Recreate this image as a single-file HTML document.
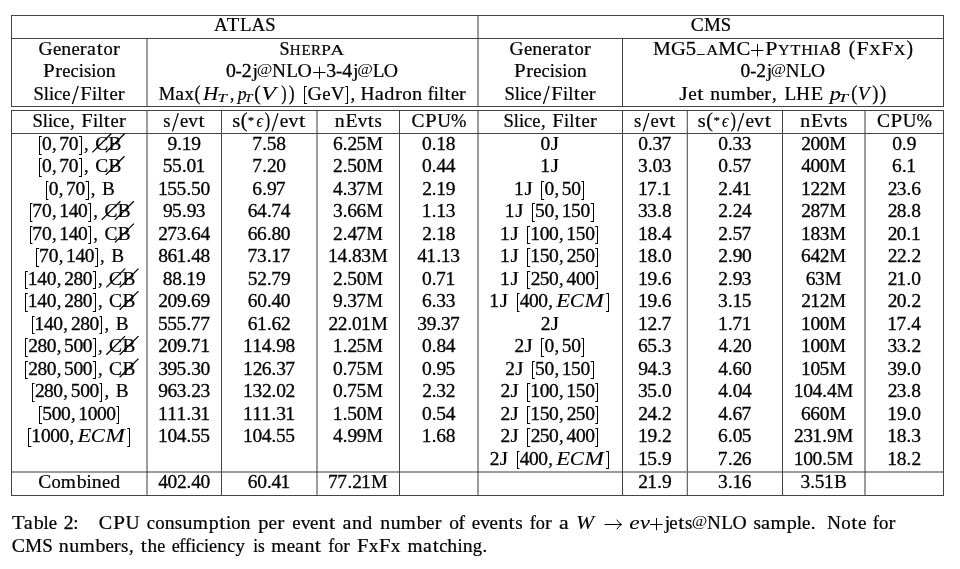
<!DOCTYPE html>
<html><head><meta charset="utf-8"><style>
html,body{margin:0;padding:0;background:#fff;width:960px;height:569px;overflow:hidden}
svg{display:block;will-change:transform}
text{font-family:"Liberation Serif",serif;font-size:18.56px;fill:#000;stroke:#000;stroke-width:0.22px;font-kerning:none;font-variant-ligatures:none;white-space:pre}
text.i{font-style:italic;stroke-width:0.12px}
.sl{stroke:#000;stroke-width:1.3}
.sl2{stroke:#000;stroke-width:1.25}
</style></head><body>
<svg width="960" height="569" viewBox="0 0 960 569">
<rect x="686" y="110" width="1" height="386" fill="#d4d4d4"/><rect x="11" y="471" width="933" height="2" fill="#9c9c9c"/><rect x="146" y="38" width="2" height="69" fill="#9c9c9c"/><rect x="146" y="110" width="2" height="386" fill="#9c9c9c"/><rect x="316" y="110" width="2" height="386" fill="#9c9c9c"/><rect x="477" y="15" width="2" height="92" fill="#9c9c9c"/><rect x="477" y="110" width="2" height="386" fill="#9c9c9c"/><rect x="864" y="110" width="2" height="386" fill="#9c9c9c"/><rect x="146" y="471" width="2" height="2" fill="#666"/><rect x="316" y="471" width="2" height="2" fill="#666"/><rect x="477" y="471" width="2" height="2" fill="#666"/><rect x="864" y="471" width="2" height="2" fill="#666"/><rect x="687" y="110" width="1" height="386" fill="#6a6a6a"/><rect x="11" y="15" width="933" height="1" fill="#444"/><rect x="11" y="38" width="933" height="1" fill="#444"/><rect x="11" y="106" width="933" height="1" fill="#444"/><rect x="11" y="110" width="933" height="1" fill="#444"/><rect x="11" y="133" width="933" height="1" fill="#444"/><rect x="11" y="495" width="933" height="1" fill="#444"/><rect x="11" y="15" width="1" height="92" fill="#444"/><rect x="11" y="110" width="1" height="386" fill="#444"/><rect x="221" y="110" width="1" height="386" fill="#444"/><rect x="399" y="110" width="1" height="386" fill="#444"/><rect x="622" y="38" width="1" height="69" fill="#444"/><rect x="622" y="110" width="1" height="386" fill="#444"/><rect x="782" y="110" width="1" height="386" fill="#444"/><rect x="943" y="15" width="1" height="92" fill="#444"/><rect x="943" y="110" width="1" height="386" fill="#444"/>
<g fill="#000">
<line x1="72.44" y1="104.05" x2="78.20" y2="85.87" class="sl2"/>
<line x1="543.44" y1="104.05" x2="549.20" y2="85.87" class="sl2"/>
<path d="M313.16 72h12.36v1h-12.36ZM319 66.38h1v12.36h-1Z"/>
<path d="M304 86H306.84V87H305V103H306.84V104H304Z"/>
<path d="M348 86H345.30V87H347V103H345.30V104H348Z"/>
<rect x="696.8" y="54.00" width="8" height="0.9"/>
<path d="M751.12 50h12.36v1h-12.36ZM757 44.08h1v12.36h-1Z"/>
<line x1="172.50" y1="131.25" x2="178.25" y2="113.07" class="sl2"/>
<line x1="272.02" y1="131.25" x2="277.99" y2="113.07" class="sl2"/>
<line x1="643.15" y1="131.25" x2="648.90" y2="113.07" class="sl2"/>
<line x1="737.72" y1="131.25" x2="743.69" y2="113.07" class="sl2"/>
<path d="M39 136H41.71V137H40V154H41.71V155H39Z"/>
<path d="M82 136H78.91V137H81V154H78.91V155H82Z"/>
<line x1="92.35" y1="152.40" x2="111.15" y2="133.70" class="sl"/>
<line x1="105.75" y1="152.40" x2="124.55" y2="133.70" class="sl"/>
<path d="M39 158H41.71V159H40V176H41.71V177H39Z"/>
<path d="M82 158H78.91V159H81V176H78.91V177H82Z"/>
<line x1="105.75" y1="174.89" x2="124.55" y2="156.19" class="sl"/>
<path d="M46 181H48.41V182H47V199H48.41V200H46Z"/>
<path d="M89 181H85.61V182H88V199H85.61V200H89Z"/>
<path d="M541 181H544.15V182H542V199H544.15V200H541Z"/>
<path d="M584 181H581.35V182H583V199H581.35V200H584Z"/>
<path d="M30 203H32.43V204H31V221H32.43V222H30Z"/>
<path d="M91 203H88.19V204H90V221H88.19V222H91Z"/>
<line x1="101.63" y1="219.87" x2="120.43" y2="201.17" class="sl"/>
<line x1="115.03" y1="219.87" x2="133.83" y2="201.17" class="sl"/>
<path d="M532 203H534.87V204H533V221H534.87V222H532Z"/>
<path d="M594 203H590.63V204H593V221H590.63V222H594Z"/>
<path d="M30 226H32.43V227H31V243H32.43V244H30Z"/>
<path d="M91 226H88.19V227H90V243H88.19V244H91Z"/>
<line x1="115.03" y1="242.36" x2="133.83" y2="223.66" class="sl"/>
<path d="M527 226H530.23V227H528V243H530.23V244H527Z"/>
<path d="M598 226H595.27V227H597V243H595.27V244H598Z"/>
<path d="M36 248H39.13V249H37V266H39.13V267H36Z"/>
<path d="M98 248H94.89V249H97V266H94.89V267H98Z"/>
<path d="M527 248H530.23V249H528V266H530.23V267H527Z"/>
<path d="M598 248H595.27V249H597V266H595.27V267H598Z"/>
<path d="M25 271H27.79V272H26V288H27.79V289H25Z"/>
<path d="M96 271H92.83V272H95V288H92.83V289H96Z"/>
<line x1="106.27" y1="287.34" x2="125.07" y2="268.64" class="sl"/>
<line x1="119.67" y1="287.34" x2="138.47" y2="268.64" class="sl"/>
<path d="M527 271H530.23V272H528V288H530.23V289H527Z"/>
<path d="M598 271H595.27V272H597V288H595.27V289H598Z"/>
<path d="M25 293H27.79V294H26V311H27.79V312H25Z"/>
<path d="M96 293H92.83V294H95V311H92.83V312H96Z"/>
<line x1="119.67" y1="309.83" x2="138.47" y2="291.13" class="sl"/>
<path d="M517 293H519.45V294H518V311H519.45V312H517Z"/>
<path d="M609 293H606.06V294H608V311H606.06V312H609Z"/>
<path d="M32 316H34.49V317H33V333H34.49V334H32Z"/>
<path d="M102 316H99.53V317H101V333H99.53V334H102Z"/>
<path d="M25 338H27.79V339H26V356H27.79V357H25Z"/>
<path d="M96 338H92.83V339H95V356H92.83V357H96Z"/>
<line x1="106.27" y1="354.81" x2="125.07" y2="336.11" class="sl"/>
<line x1="119.67" y1="354.81" x2="138.47" y2="336.11" class="sl"/>
<path d="M541 338H544.15V339H542V356H544.15V357H541Z"/>
<path d="M584 338H581.35V339H583V356H581.35V357H584Z"/>
<path d="M25 361H27.79V362H26V378H27.79V379H25Z"/>
<path d="M96 361H92.83V362H95V378H92.83V379H96Z"/>
<line x1="119.67" y1="377.30" x2="138.47" y2="358.60" class="sl"/>
<path d="M532 361H534.87V362H533V378H534.87V379H532Z"/>
<path d="M594 361H590.63V362H593V378H590.63V379H594Z"/>
<path d="M32 383H34.49V384H33V401H34.49V402H32Z"/>
<path d="M102 383H99.53V384H101V401H99.53V402H102Z"/>
<path d="M527 383H530.23V384H528V401H530.23V402H527Z"/>
<path d="M598 383H595.27V384H597V401H595.27V402H598Z"/>
<path d="M39 406H42.09V407H40V423H42.09V424H39Z"/>
<path d="M119 406H116.41V407H118V423H116.41V424H119Z"/>
<path d="M527 406H530.23V407H528V423H530.23V424H527Z"/>
<path d="M598 406H595.27V407H597V423H595.27V424H598Z"/>
<path d="M28 428H31.31V429H29V446H31.31V447H28Z"/>
<path d="M130 428H127.20V429H129V446H127.20V447H130Z"/>
<path d="M527 428H530.23V429H528V446H530.23V447H527Z"/>
<path d="M598 428H595.27V429H597V446H595.27V447H598Z"/>
<path d="M517 451H519.45V452H518V468H519.45V469H517Z"/>
<path d="M609 451H606.06V452H608V468H606.06V469H609Z"/>
<rect x="604.70" y="524" width="16.40" height="1"/><path d="M616.80 519.70Q619.10 523.50 621.70 524.50Q619.10 525.50 616.80 529.30" fill="none" stroke="#000" stroke-width="1"/>
<path d="M650.08 524h12.36v1h-12.36ZM656 517.88h1v12.36h-1Z"/>
</g>
<text class="r" transform="scale(1.023 1.000)" x="209.21 245.75" y="30.90" style="stroke-width:0.218px">AA</text>
<text class="r" transform="scale(1.109 1.000)" x="204.43" y="30.90" style="stroke-width:0.209px">T</text>
<text class="r" transform="scale(1.014 1.000)" x="236.76" y="30.90" style="stroke-width:0.218px">L</text>
<text class="r" x="265.20" y="30.90">S</text>
<text class="r" transform="scale(1.050 1.000)" x="657.84" y="30.90" style="stroke-width:0.215px">C</text>
<text class="r" transform="scale(1.019 1.000)" x="690.77" y="30.90" style="stroke-width:0.218px">M</text>
<text class="r" x="720.76" y="30.90">S</text>
<text class="r" transform="scale(1.052 1.000)" x="36.64" y="54.90" style="stroke-width:0.214px">G</text>
<text class="r" x="52.93 71.49" y="54.90">ee</text>
<text class="r" transform="scale(1.067 1.000)" x="57.49" y="54.90" style="stroke-width:0.213px">n</text>
<text class="r" transform="scale(1.106 1.000)" x="72.22 102.10" y="54.90" style="stroke-width:0.209px">rr</text>
<text class="r" transform="scale(1.076 1.000)" x="80.89" y="54.90" style="stroke-width:0.212px">a</text>
<text class="r" transform="scale(1.180 1.000)" x="82.08" y="54.90" style="stroke-width:0.203px">t</text>
<text class="r" x="103.55" y="54.90">o</text>
<text class="r" transform="scale(1.134 1.000)" x="37.94" y="77.20" style="stroke-width:0.207px">P</text>
<text class="r" transform="scale(1.106 1.000)" x="49.89" y="77.20" style="stroke-width:0.209px">r</text>
<text class="r" x="62.30 70.52" y="77.20">ec</text>
<text class="r" x="78.82 91.29 96.47" y="77.20">iio</text>
<text class="r" transform="scale(1.008 1.000)" x="83.30" y="77.20" style="stroke-width:0.219px">s</text>
<text class="r" transform="scale(1.067 1.000)" x="99.23" y="77.20" style="stroke-width:0.213px">n</text>
<text class="r" x="33.42" y="99.60">S</text>
<text class="r" x="43.78 48.92 91.97 97.14" y="99.60">liil</text>
<text class="r" x="54.03 62.30 109.48" y="99.60">cee</text>
<text class="r" transform="scale(1.104 1.000)" x="72.74" y="99.60" style="stroke-width:0.209px">F</text>
<text class="r" transform="scale(1.180 1.000)" x="87.14" y="99.60" style="stroke-width:0.203px">t</text>
<text class="r" transform="scale(1.106 1.000)" x="106.57" y="99.60" style="stroke-width:0.209px">r</text>
<text class="r" transform="scale(1.052 1.000)" x="484.36" y="54.90" style="stroke-width:0.214px">G</text>
<text class="r" x="523.93 542.49" y="54.90">ee</text>
<text class="r" transform="scale(1.067 1.000)" x="498.92" y="54.90" style="stroke-width:0.213px">n</text>
<text class="r" transform="scale(1.106 1.000)" x="498.08 527.96" y="54.90" style="stroke-width:0.209px">rr</text>
<text class="r" transform="scale(1.076 1.000)" x="518.63" y="54.90" style="stroke-width:0.212px">a</text>
<text class="r" transform="scale(1.180 1.000)" x="481.23" y="54.90" style="stroke-width:0.203px">t</text>
<text class="r" x="574.55" y="54.90">o</text>
<text class="r" transform="scale(1.134 1.000)" x="453.28" y="77.20" style="stroke-width:0.207px">P</text>
<text class="r" transform="scale(1.106 1.000)" x="475.74" y="77.20" style="stroke-width:0.209px">r</text>
<text class="r" x="533.30 541.52" y="77.20">ec</text>
<text class="r" x="549.82 562.29 567.47" y="77.20">iio</text>
<text class="r" transform="scale(1.008 1.000)" x="550.56" y="77.20" style="stroke-width:0.219px">s</text>
<text class="r" transform="scale(1.067 1.000)" x="540.65" y="77.20" style="stroke-width:0.213px">n</text>
<text class="r" x="504.42" y="99.60">S</text>
<text class="r" x="514.78 519.92 562.97 568.14" y="99.60">liil</text>
<text class="r" x="525.03 533.30 580.48" y="99.60">cee</text>
<text class="r" transform="scale(1.104 1.000)" x="499.37" y="99.60" style="stroke-width:0.209px">F</text>
<text class="r" transform="scale(1.180 1.000)" x="486.29" y="99.60" style="stroke-width:0.203px">t</text>
<text class="r" transform="scale(1.106 1.000)" x="532.43" y="99.60" style="stroke-width:0.209px">r</text>
<text class="r" transform="scale(0.974 1.000)" x="287.05" y="54.90" style="stroke-width:0.223px">S</text>
<text class="r" transform="scale(1.052 1.000)" x="275.48 286.50 295.71" y="54.90" style="font-size:14.29px;stroke-width:0.214px">HER</text>
<text class="r" transform="scale(1.206 1.000)" x="266.42" y="54.90" style="font-size:14.29px;stroke-width:0.200px">P</text>
<text class="r" transform="scale(1.360 1.000)" x="242.80" y="54.90" style="font-size:14.29px;stroke-width:0.189px">A</text>
<text class="r" transform="scale(1.069 1.000)" x="211.36 226.19 305.29 320.07" y="77.20" style="stroke-width:0.290px">0234</text>
<text class="r" transform="scale(1.018 1.000)" x="231.45 330.18" y="77.20" style="stroke-width:0.218px">--</text>
<text class="r" transform="scale(1.079 1.000)" x="234.13 327.27" y="77.20" style="stroke-width:0.212px">jj</text>
<text class="r" transform="scale(0.916 0.820)" x="280.20 389.91" y="90.76" style="stroke-width:0.000px">@@</text>
<text class="r" transform="scale(1.041 1.000)" x="261.18" y="77.20" style="stroke-width:0.216px">N</text>
<text class="r" transform="scale(1.032 1.000)" x="277.48 361.14" y="77.20" style="stroke-width:0.217px">LL</text>
<text class="r" transform="scale(1.065 1.000)" x="279.35 360.41" y="77.20" style="stroke-width:0.213px">OO</text>
<text class="r" x="158.66" y="99.60">M</text>
<text class="r" transform="scale(1.060 1.000)" x="165.38" y="99.60" style="stroke-width:0.214px">a</text>
<text class="r" transform="scale(1.018 1.000)" x="181.32" y="99.60" style="stroke-width:0.218px">x</text>
<text class="r" transform="scale(0.985 1.100)" x="197.46" y="90.55" style="stroke-width:0.211px">(</text>
<text class="i" transform="scale(1.139 1.000)" x="178.25" y="99.60" style="stroke-width:0.112px">H</text>
<text class="i" transform="scale(1.294 1.000)" x="168.05" y="101.64" style="font-size:12.99px;stroke-width:0.105px">T</text>
<text class="r" transform="scale(0.912 1.000)" x="252.14" y="99.60" style="stroke-width:0.230px">,</text>
<text class="i" transform="scale(0.958 1.000)" x="248.06" y="99.60" style="stroke-width:0.123px">p</text>
<text class="i" transform="scale(1.141 1.000)" x="214.01" y="101.64" style="font-size:12.99px;stroke-width:0.112px">T</text>
<text class="r" transform="scale(1.049 1.100)" x="242.27" y="90.55" style="stroke-width:0.205px">(</text>
<text class="i" transform="scale(1.300 1.000)" x="200.95" y="99.60" style="stroke-width:0.105px">V</text>
<text class="r" transform="scale(0.860 1.100)" x="326.96" y="90.55" style="stroke-width:0.226px">)</text>
<text class="r" transform="scale(0.944 1.100)" x="305.76" y="90.55" style="stroke-width:0.216px">)</text>
<text class="r" transform="scale(1.069 1.000)" x="287.69" y="99.60" style="stroke-width:0.213px">G</text>
<text class="r" transform="scale(1.017 1.000)" x="316.78" y="99.60" style="stroke-width:0.218px">e</text>
<text class="r" transform="scale(1.040 1.000)" x="317.97" y="99.60" style="stroke-width:0.216px">V</text>
<text class="r" transform="scale(1.016 1.000)" x="344.95" y="99.60" style="stroke-width:0.218px">,</text>
<text class="r" transform="scale(1.050 1.000)" x="343.37" y="99.60" style="stroke-width:0.215px">H</text>
<text class="r" transform="scale(1.104 1.000)" x="339.41" y="99.60" style="stroke-width:0.209px">a</text>
<text class="r" transform="scale(1.095 1.000)" x="350.88 376.21" y="99.60" style="stroke-width:0.210px">dn</text>
<text class="r" transform="scale(1.135 1.000)" x="347.96" y="99.60" style="stroke-width:0.207px">r</text>
<text class="r" transform="scale(1.026 1.000)" x="392.09" y="99.60" style="stroke-width:0.217px">o</text>
<text class="r" transform="scale(0.974 1.000)" x="439.26 445.46 450.64" y="99.60" style="stroke-width:0.223px">fil</text>
<text class="r" transform="scale(1.150 1.000)" x="386.48" y="99.60" style="stroke-width:0.205px">t</text>
<text class="r" transform="scale(0.975 1.000)" x="462.50" y="99.60" style="stroke-width:0.223px">e</text>
<text class="r" transform="scale(1.078 1.000)" x="425.90" y="99.60" style="stroke-width:0.212px">r</text>
<text class="r" transform="scale(1.078 1.000)" x="605.68" y="54.90" style="stroke-width:0.212px">M</text>
<text class="r" transform="scale(1.113 1.000)" x="602.84" y="54.90" style="stroke-width:0.209px">G</text>
<text class="r" transform="scale(1.111 1.000)" x="617.27" y="54.90" style="stroke-width:0.285px">5</text>
<text class="r" transform="scale(1.149 1.000)" x="614.57" y="54.90" style="font-size:14.29px;stroke-width:0.205px">A</text>
<text class="r" transform="scale(1.084 1.000)" x="662.61" y="54.90" style="stroke-width:0.211px">M</text>
<text class="r" transform="scale(1.117 1.000)" x="659.46" y="54.90" style="stroke-width:0.208px">C</text>
<text class="r" transform="scale(1.184 1.000)" x="646.26" y="54.90" style="stroke-width:0.202px">P</text>
<text class="r" transform="scale(1.127 1.000)" x="690.32 701.36 710.94 721.59 726.68" y="54.90" style="font-size:14.29px;stroke-width:0.207px">YTHIA</text>
<text class="r" transform="scale(1.096 1.000)" x="757.76" y="54.90" style="stroke-width:0.287px">8</text>
<text class="r" transform="scale(1.058 1.100)" x="802.30 856.74" y="49.91" style="stroke-width:0.204px">()</text>
<text class="r" transform="scale(1.168 1.000)" x="733.30 754.59" y="54.90" style="stroke-width:0.204px">FF</text>
<text class="r" transform="scale(1.142 1.000)" x="760.90 782.67" y="54.90" style="font-size:14.29px;stroke-width:0.206px">XX</text>
<text class="r" transform="scale(1.050 1.000)" x="705.35 720.19" y="77.20" style="stroke-width:0.293px">02</text>
<text class="r" x="750.13" y="77.20">-</text>
<text class="r" transform="scale(1.060 1.000)" x="723.43" y="77.20" style="stroke-width:0.214px">j</text>
<text class="r" transform="scale(0.900 0.820)" x="856.44" y="90.76" style="stroke-width:0.000px">@</text>
<text class="r" transform="scale(1.023 1.000)" x="768.09" y="77.20" style="stroke-width:0.218px">N</text>
<text class="r" transform="scale(1.014 1.000)" x="788.93" y="77.20" style="stroke-width:0.218px">L</text>
<text class="r" transform="scale(1.046 1.000)" x="775.26" y="77.20" style="stroke-width:0.215px">O</text>
<text class="r" transform="scale(1.185 1.000)" x="573.11" y="99.60" style="stroke-width:0.202px">J</text>
<text class="r" transform="scale(1.031 1.000)" x="667.59" y="99.60" style="stroke-width:0.217px">e</text>
<text class="r" transform="scale(1.215 1.000)" x="573.96" y="99.60" style="stroke-width:0.200px">t</text>
<text class="r" transform="scale(1.057 1.000)" x="671.95 681.72 706.21" y="99.60" style="stroke-width:0.214px">nub</text>
<text class="r" transform="scale(1.033 1.000)" x="707.37" y="99.60" style="stroke-width:0.216px">m</text>
<text class="r" transform="scale(0.992 1.000)" x="762.16" y="99.60" style="stroke-width:0.221px">e</text>
<text class="r" transform="scale(1.096 1.000)" x="697.42" y="99.60" style="stroke-width:0.210px">r</text>
<text class="r" transform="scale(0.991 1.000)" x="778.97" y="99.60" style="stroke-width:0.221px">,</text>
<text class="r" transform="scale(1.038 1.000)" x="755.73" y="99.60" style="stroke-width:0.216px">L</text>
<text class="r" transform="scale(1.048 1.000)" x="759.62" y="99.60" style="stroke-width:0.215px">H</text>
<text class="r" transform="scale(1.094 1.000)" x="741.05" y="99.60" style="stroke-width:0.210px">E</text>
<text class="i" transform="scale(1.193 1.000)" x="695.47" y="99.60" style="stroke-width:0.110px">p</text>
<text class="i" transform="scale(1.420 1.000)" x="590.03" y="101.64" style="font-size:12.99px;stroke-width:0.101px">T</text>
<text class="r" transform="scale(0.986 1.100)" x="863.38" y="90.55" style="stroke-width:0.211px">(</text>
<text class="i" transform="scale(1.045 1.000)" x="820.75" y="99.60" style="stroke-width:0.117px">V</text>
<text class="r" transform="scale(0.986 1.100)" x="884.70" y="90.55" style="stroke-width:0.211px">)</text>
<text class="r" transform="scale(1.007 1.100)" x="873.78" y="90.55" style="stroke-width:0.209px">)</text>
<text class="r" x="32.39" y="126.80">S</text>
<text class="r" x="42.75 47.89 70.05 93.00 98.17" y="126.80">li,il</text>
<text class="r" x="52.99 61.27 110.51" y="126.80">cee</text>
<text class="r" transform="scale(1.104 1.000)" x="73.67" y="126.80" style="stroke-width:0.209px">F</text>
<text class="r" transform="scale(1.180 1.000)" x="88.01" y="126.80" style="stroke-width:0.203px">t</text>
<text class="r" transform="scale(1.106 1.000)" x="107.50" y="126.80" style="stroke-width:0.209px">r</text>
<text class="r" transform="scale(1.008 1.000)" x="162.00" y="126.80" style="stroke-width:0.219px">s</text>
<text class="r" x="179.88" y="126.80">e</text>
<text class="r" transform="scale(1.033 1.000)" x="182.26" y="126.80" style="stroke-width:0.216px">v</text>
<text class="r" transform="scale(1.180 1.000)" x="168.21" y="126.80" style="stroke-width:0.203px">t</text>
<text class="r" transform="scale(1.103 1.000)" x="210.48" y="126.80" style="stroke-width:0.209px">s</text>
<text class="r" transform="scale(1.094 1.100)" x="219.97" y="115.27" style="stroke-width:0.201px">(</text>
<text class="r" transform="scale(1.158 1.000)" x="213.96" y="123.94" style="font-size:11.14px;stroke-width:0.204px">*</text>
<text class="i" transform="scale(0.864 1.000)" x="296.79" y="126.80" style="stroke-width:0.129px">ϵ</text>
<text class="r" transform="scale(0.881 1.100)" x="300.54" y="115.27" style="stroke-width:0.223px">)</text>
<text class="r" transform="scale(1.039 1.000)" x="269.19" y="126.80" style="stroke-width:0.216px">e</text>
<text class="r" transform="scale(1.073 1.000)" x="268.78" y="126.80" style="stroke-width:0.212px">v</text>
<text class="r" transform="scale(1.226 1.000)" x="243.89" y="126.80" style="stroke-width:0.199px">t</text>
<text class="r" transform="scale(1.067 1.000)" x="313.72" y="126.80" style="stroke-width:0.213px">n</text>
<text class="r" transform="scale(1.069 1.000)" x="323.10" y="126.80" style="stroke-width:0.213px">E</text>
<text class="r" transform="scale(1.033 1.000)" x="346.23" y="126.80" style="stroke-width:0.216px">v</text>
<text class="r" transform="scale(1.180 1.000)" x="311.76" y="126.80" style="stroke-width:0.203px">t</text>
<text class="r" transform="scale(1.008 1.000)" x="371.57" y="126.80" style="stroke-width:0.219px">s</text>
<text class="r" transform="scale(1.050 1.000)" x="391.79" y="126.80" style="stroke-width:0.215px">C</text>
<text class="r" transform="scale(1.134 1.000)" x="374.80" y="126.80" style="stroke-width:0.207px">P</text>
<text class="r" transform="scale(1.023 1.000)" x="427.35" y="126.80" style="stroke-width:0.218px">U</text>
<text class="r" x="451.00" y="126.80">%</text>
<text class="r" x="503.39" y="126.80">S</text>
<text class="r" x="513.75 518.89 541.05 564.00 569.17" y="126.80">li,il</text>
<text class="r" x="523.99 532.27 581.51" y="126.80">cee</text>
<text class="r" transform="scale(1.104 1.000)" x="500.30" y="126.80" style="stroke-width:0.209px">F</text>
<text class="r" transform="scale(1.180 1.000)" x="487.16" y="126.80" style="stroke-width:0.203px">t</text>
<text class="r" transform="scale(1.106 1.000)" x="533.36" y="126.80" style="stroke-width:0.209px">r</text>
<text class="r" transform="scale(1.008 1.000)" x="628.91" y="126.80" style="stroke-width:0.219px">s</text>
<text class="r" x="650.53" y="126.80">e</text>
<text class="r" transform="scale(1.033 1.000)" x="637.87" y="126.80" style="stroke-width:0.216px">v</text>
<text class="r" transform="scale(1.180 1.000)" x="567.07" y="126.80" style="stroke-width:0.203px">t</text>
<text class="r" transform="scale(1.103 1.000)" x="632.69" y="126.80" style="stroke-width:0.209px">s</text>
<text class="r" transform="scale(1.094 1.100)" x="645.65" y="115.27" style="stroke-width:0.201px">(</text>
<text class="r" transform="scale(1.158 1.000)" x="616.12" y="123.94" style="font-size:11.14px;stroke-width:0.204px">*</text>
<text class="i" transform="scale(0.864 1.000)" x="835.79" y="126.80" style="stroke-width:0.129px">ϵ</text>
<text class="r" transform="scale(0.881 1.100)" x="829.14" y="115.27" style="stroke-width:0.223px">)</text>
<text class="r" transform="scale(1.039 1.000)" x="717.41" y="126.80" style="stroke-width:0.216px">e</text>
<text class="r" transform="scale(1.073 1.000)" x="702.80" y="126.80" style="stroke-width:0.212px">v</text>
<text class="r" transform="scale(1.226 1.000)" x="623.75" y="126.80" style="stroke-width:0.199px">t</text>
<text class="r" transform="scale(1.067 1.000)" x="750.08" y="126.80" style="stroke-width:0.213px">n</text>
<text class="r" transform="scale(1.069 1.000)" x="758.64" y="126.80" style="stroke-width:0.213px">E</text>
<text class="r" transform="scale(1.033 1.000)" x="796.96" y="126.80" style="stroke-width:0.216px">v</text>
<text class="r" transform="scale(1.180 1.000)" x="706.33" y="126.80" style="stroke-width:0.203px">t</text>
<text class="r" transform="scale(1.008 1.000)" x="833.47" y="126.80" style="stroke-width:0.219px">s</text>
<text class="r" transform="scale(1.050 1.000)" x="835.17" y="126.80" style="stroke-width:0.215px">C</text>
<text class="r" transform="scale(1.134 1.000)" x="785.34" y="126.80" style="stroke-width:0.207px">P</text>
<text class="r" transform="scale(1.023 1.000)" x="882.43" y="126.80" style="stroke-width:0.218px">U</text>
<text class="r" x="916.55" y="126.80">%</text>
<text class="r" transform="scale(1.050 1.000)" x="40.03 56.38 65.56" y="149.90" style="stroke-width:0.293px">070</text>
<text class="r" x="52.03 83.99" y="149.90">,,</text>
<text class="r" transform="scale(1.050 1.000)" x="90.66" y="149.90" style="stroke-width:0.215px">C</text>
<text class="r" transform="scale(1.037 1.000)" x="104.72" y="149.90" style="stroke-width:0.216px">B</text>
<text class="r" transform="scale(1.050 1.000)" x="159.62 173.03 182.21" y="149.90" style="stroke-width:0.293px">919</text>
<text class="r" x="177.29" y="149.90">.</text>
<text class="r" transform="scale(1.050 1.000)" x="240.15 254.07 263.08" y="149.90" style="stroke-width:0.293px">758</text>
<text class="r" x="262.29" y="149.90">.</text>
<text class="r" transform="scale(1.050 1.000)" x="317.03 331.01 339.57" y="149.90" style="stroke-width:0.293px">625</text>
<text class="r" x="342.78" y="149.90">.</text>
<text class="r" transform="scale(1.019 1.000)" x="359.52" y="149.90" style="stroke-width:0.218px">M</text>
<text class="r" transform="scale(1.050 1.000)" x="401.92 415.41 424.51" y="149.90" style="stroke-width:0.293px">018</text>
<text class="r" x="431.79" y="149.90">.</text>
<text class="r" transform="scale(1.050 1.000)" x="514.87" y="149.90" style="stroke-width:0.293px">0</text>
<text class="r" transform="scale(1.150 1.000)" x="478.90" y="149.90" style="stroke-width:0.205px">J</text>
<text class="r" transform="scale(1.050 1.000)" x="607.78 621.45 630.02" y="149.90" style="stroke-width:0.293px">037</text>
<text class="r" x="647.94" y="149.90">.</text>
<text class="r" transform="scale(1.050 1.000)" x="684.02 697.69 706.52" y="149.90" style="stroke-width:0.293px">033</text>
<text class="r" x="727.99" y="149.90">.</text>
<text class="r" transform="scale(1.050 1.000)" x="763.14 771.88 780.72" y="149.90" style="stroke-width:0.293px">200</text>
<text class="r" transform="scale(1.019 1.000)" x="813.91" y="149.90" style="stroke-width:0.218px">M</text>
<text class="r" transform="scale(1.050 1.000)" x="849.72 863.55" y="149.90" style="stroke-width:0.293px">09</text>
<text class="r" x="901.98" y="149.90">.</text>
<text class="r" transform="scale(1.050 1.000)" x="40.03 56.38 65.56" y="172.39" style="stroke-width:0.293px">070</text>
<text class="r" x="52.03 83.99" y="172.39">,,</text>
<text class="r" transform="scale(1.050 1.000)" x="90.66" y="172.39" style="stroke-width:0.215px">C</text>
<text class="r" transform="scale(1.037 1.000)" x="104.72" y="172.39" style="stroke-width:0.216px">B</text>
<text class="r" transform="scale(1.050 1.000)" x="154.95 163.79 177.71 186.29" y="172.39" style="stroke-width:0.293px">5501</text>
<text class="r" x="181.93" y="172.39">.</text>
<text class="r" transform="scale(1.050 1.000)" x="240.15 254.35 263.08" y="172.39" style="stroke-width:0.293px">720</text>
<text class="r" x="262.29" y="172.39">.</text>
<text class="r" transform="scale(1.050 1.000)" x="317.26 330.73 339.74" y="172.39" style="stroke-width:0.293px">250</text>
<text class="r" x="342.78" y="172.39">.</text>
<text class="r" transform="scale(1.019 1.000)" x="359.52" y="172.39" style="stroke-width:0.218px">M</text>
<text class="r" transform="scale(1.050 1.000)" x="401.92 415.64 424.47" y="172.39" style="stroke-width:0.293px">044</text>
<text class="r" x="431.79" y="172.39">.</text>
<text class="r" transform="scale(1.050 1.000)" x="514.61" y="172.39" style="stroke-width:0.293px">1</text>
<text class="r" transform="scale(1.150 1.000)" x="478.90" y="172.39" style="stroke-width:0.205px">J</text>
<text class="r" transform="scale(1.050 1.000)" x="607.70 621.53 630.29" y="172.39" style="stroke-width:0.293px">303</text>
<text class="r" x="647.94" y="172.39">.</text>
<text class="r" transform="scale(1.050 1.000)" x="684.02 697.59 706.26" y="172.39" style="stroke-width:0.293px">057</text>
<text class="r" x="727.99" y="172.39">.</text>
<text class="r" transform="scale(1.050 1.000)" x="763.00 771.88 780.72" y="172.39" style="stroke-width:0.293px">400</text>
<text class="r" transform="scale(1.019 1.000)" x="813.91" y="172.39" style="stroke-width:0.218px">M</text>
<text class="r" transform="scale(1.050 1.000)" x="849.60 863.21" y="172.39" style="stroke-width:0.293px">61</text>
<text class="r" x="901.98" y="172.39">.</text>
<text class="r" transform="scale(1.050 1.000)" x="46.41 62.76 71.94" y="194.88" style="stroke-width:0.293px">070</text>
<text class="r" x="58.73 90.70" y="194.88">,,</text>
<text class="r" transform="scale(1.037 1.000)" x="98.26" y="194.88" style="stroke-width:0.216px">B</text>
<text class="r" transform="scale(1.050 1.000)" x="150.45 159.37 168.20 181.95 190.97" y="194.88" style="stroke-width:0.293px">15550</text>
<text class="r" x="186.57" y="194.88">.</text>
<text class="r" transform="scale(1.050 1.000)" x="240.37 254.33 262.74" y="194.88" style="stroke-width:0.293px">697</text>
<text class="r" x="262.29" y="194.88">.</text>
<text class="r" transform="scale(1.050 1.000)" x="317.12 330.82 339.40" y="194.88" style="stroke-width:0.293px">437</text>
<text class="r" x="342.78" y="194.88">.</text>
<text class="r" transform="scale(1.019 1.000)" x="359.52" y="194.88" style="stroke-width:0.218px">M</text>
<text class="r" transform="scale(1.050 1.000)" x="402.03 415.41 424.59" y="194.88" style="stroke-width:0.293px">219</text>
<text class="r" x="431.79" y="194.88">.</text>
<text class="r" transform="scale(1.050 1.000)" x="489.57 518.55 535.07 544.08" y="194.88" style="stroke-width:0.293px">1050</text>
<text class="r" transform="scale(1.150 1.000)" x="456.04" y="194.88" style="stroke-width:0.205px">J</text>
<text class="r" x="554.48" y="194.88">,</text>
<text class="r" transform="scale(1.050 1.000)" x="607.52 616.27 630.11" y="194.88" style="stroke-width:0.293px">171</text>
<text class="r" x="657.22" y="194.88">.</text>
<text class="r" transform="scale(1.050 1.000)" x="684.12 697.73 706.35" y="194.88" style="stroke-width:0.293px">241</text>
<text class="r" x="727.99" y="194.88">.</text>
<text class="r" transform="scale(1.050 1.000)" x="762.78 771.98 780.82" y="194.88" style="stroke-width:0.293px">122</text>
<text class="r" transform="scale(1.019 1.000)" x="813.91" y="194.88" style="stroke-width:0.218px">M</text>
<text class="r" transform="scale(1.050 1.000)" x="845.41 854.06 867.77" y="194.88" style="stroke-width:0.293px">236</text>
<text class="r" x="906.62" y="194.88">.</text>
<text class="r" transform="scale(1.050 1.000)" x="30.84 40.03 56.46 65.52 74.40" y="217.37" style="stroke-width:0.293px">70140</text>
<text class="r" x="52.03 93.27" y="217.37">,,</text>
<text class="r" transform="scale(1.050 1.000)" x="99.50" y="217.37" style="stroke-width:0.215px">C</text>
<text class="r" transform="scale(1.037 1.000)" x="113.67" y="217.37" style="stroke-width:0.216px">B</text>
<text class="r" transform="scale(1.050 1.000)" x="155.21 163.79 177.79 186.47" y="217.37" style="stroke-width:0.293px">9593</text>
<text class="r" x="181.93" y="217.37">.</text>
<text class="r" transform="scale(1.050 1.000)" x="235.95 244.88 258.32 267.46" y="217.37" style="stroke-width:0.293px">6474</text>
<text class="r" x="266.93" y="217.37">.</text>
<text class="r" transform="scale(1.050 1.000)" x="317.07 330.78 339.62" y="217.37" style="stroke-width:0.293px">366</text>
<text class="r" x="342.78" y="217.37">.</text>
<text class="r" transform="scale(1.019 1.000)" x="359.52" y="217.37" style="stroke-width:0.218px">M</text>
<text class="r" transform="scale(1.050 1.000)" x="401.67 415.41 424.43" y="217.37" style="stroke-width:0.293px">113</text>
<text class="r" x="431.79" y="217.37">.</text>
<text class="r" transform="scale(1.050 1.000)" x="480.73 509.53 518.55 534.98 543.90 552.92" y="217.37" style="stroke-width:0.293px">150150</text>
<text class="r" transform="scale(1.150 1.000)" x="447.97" y="217.37" style="stroke-width:0.205px">J</text>
<text class="r" x="554.48" y="217.37">,</text>
<text class="r" transform="scale(1.050 1.000)" x="607.70 616.54 630.37" y="217.37" style="stroke-width:0.293px">338</text>
<text class="r" x="657.22" y="217.37">.</text>
<text class="r" transform="scale(1.050 1.000)" x="684.12 697.87 706.57" y="217.37" style="stroke-width:0.293px">224</text>
<text class="r" x="727.99" y="217.37">.</text>
<text class="r" transform="scale(1.050 1.000)" x="763.14 771.88 780.37" y="217.37" style="stroke-width:0.293px">287</text>
<text class="r" transform="scale(1.019 1.000)" x="813.91" y="217.37" style="stroke-width:0.218px">M</text>
<text class="r" transform="scale(1.050 1.000)" x="845.41 854.14 867.89" y="217.37" style="stroke-width:0.293px">288</text>
<text class="r" x="906.62" y="217.37">.</text>
<text class="r" transform="scale(1.050 1.000)" x="30.84 40.03 56.46 65.52 74.40" y="239.86" style="stroke-width:0.293px">70140</text>
<text class="r" x="52.03 93.27" y="239.86">,,</text>
<text class="r" transform="scale(1.050 1.000)" x="99.50" y="239.86" style="stroke-width:0.215px">C</text>
<text class="r" transform="scale(1.037 1.000)" x="113.67" y="239.86" style="stroke-width:0.216px">B</text>
<text class="r" transform="scale(1.050 1.000)" x="150.81 159.20 168.30 182.01 190.93" y="239.86" style="stroke-width:0.293px">27364</text>
<text class="r" x="186.57" y="239.86">.</text>
<text class="r" transform="scale(1.050 1.000)" x="235.95 244.79 258.66 267.50" y="239.86" style="stroke-width:0.293px">6680</text>
<text class="r" x="266.93" y="239.86">.</text>
<text class="r" transform="scale(1.050 1.000)" x="317.26 330.87 339.40" y="239.86" style="stroke-width:0.293px">247</text>
<text class="r" x="342.78" y="239.86">.</text>
<text class="r" transform="scale(1.019 1.000)" x="359.52" y="239.86" style="stroke-width:0.218px">M</text>
<text class="r" transform="scale(1.050 1.000)" x="402.03 415.41 424.51" y="239.86" style="stroke-width:0.293px">218</text>
<text class="r" x="431.79" y="239.86">.</text>
<text class="r" transform="scale(1.050 1.000)" x="476.31 505.03 514.13 522.97 539.40 548.32 557.34" y="239.86" style="stroke-width:0.293px">1100150</text>
<text class="r" transform="scale(1.150 1.000)" x="443.93" y="239.86" style="stroke-width:0.205px">J</text>
<text class="r" x="559.12" y="239.86">,</text>
<text class="r" transform="scale(1.050 1.000)" x="607.52 616.62 630.33" y="239.86" style="stroke-width:0.293px">184</text>
<text class="r" x="657.22" y="239.86">.</text>
<text class="r" transform="scale(1.050 1.000)" x="684.12 697.59 706.26" y="239.86" style="stroke-width:0.293px">257</text>
<text class="r" x="727.99" y="239.86">.</text>
<text class="r" transform="scale(1.050 1.000)" x="762.78 771.88 780.63" y="239.86" style="stroke-width:0.293px">183</text>
<text class="r" transform="scale(1.019 1.000)" x="813.91" y="239.86" style="stroke-width:0.218px">M</text>
<text class="r" transform="scale(1.050 1.000)" x="845.41 854.14 867.63" y="239.86" style="stroke-width:0.293px">201</text>
<text class="r" x="906.62" y="239.86">.</text>
<text class="r" transform="scale(1.050 1.000)" x="37.23 46.41 62.85 71.91 80.78" y="262.35" style="stroke-width:0.293px">70140</text>
<text class="r" x="58.73 99.98" y="262.35">,,</text>
<text class="r" transform="scale(1.037 1.000)" x="107.21" y="262.35" style="stroke-width:0.216px">B</text>
<text class="r" transform="scale(1.050 1.000)" x="150.70 159.42 168.12 182.09 190.97" y="262.35" style="stroke-width:0.293px">86148</text>
<text class="r" x="186.57" y="262.35">.</text>
<text class="r" transform="scale(1.050 1.000)" x="235.73 244.83 258.40 267.16" y="262.35" style="stroke-width:0.293px">7317</text>
<text class="r" x="266.93" y="262.35">.</text>
<text class="r" transform="scale(1.050 1.000)" x="312.48 321.54 335.32 344.08" y="262.35" style="stroke-width:0.293px">1483</text>
<text class="r" x="347.42" y="262.35">.</text>
<text class="r" transform="scale(1.019 1.000)" x="364.07" y="262.35" style="stroke-width:0.218px">M</text>
<text class="r" transform="scale(1.050 1.000)" x="397.47 406.08 419.83 428.85" y="262.35" style="stroke-width:0.293px">4113</text>
<text class="r" x="436.43" y="262.35">.</text>
<text class="r" transform="scale(1.050 1.000)" x="476.31 505.03 513.95 522.97 539.77 548.32 557.34" y="262.35" style="stroke-width:0.293px">1150250</text>
<text class="r" transform="scale(1.150 1.000)" x="443.93" y="262.35" style="stroke-width:0.205px">J</text>
<text class="r" x="559.12" y="262.35">,</text>
<text class="r" transform="scale(1.050 1.000)" x="607.52 616.62 630.37" y="262.35" style="stroke-width:0.293px">180</text>
<text class="r" x="657.22" y="262.35">.</text>
<text class="r" transform="scale(1.050 1.000)" x="684.12 697.85 706.61" y="262.35" style="stroke-width:0.293px">290</text>
<text class="r" x="727.99" y="262.35">.</text>
<text class="r" transform="scale(1.050 1.000)" x="762.92 771.84 780.82" y="262.35" style="stroke-width:0.293px">642</text>
<text class="r" transform="scale(1.019 1.000)" x="813.91" y="262.35" style="stroke-width:0.218px">M</text>
<text class="r" transform="scale(1.050 1.000)" x="845.41 854.25 868.00" y="262.35" style="stroke-width:0.293px">222</text>
<text class="r" x="906.62" y="262.35">.</text>
<text class="r" transform="scale(1.050 1.000)" x="26.51 35.57 44.44 61.24 69.98 78.82" y="284.84" style="stroke-width:0.293px">140280</text>
<text class="r" x="56.67 97.91" y="284.84">,,</text>
<text class="r" transform="scale(1.050 1.000)" x="103.91" y="284.84" style="stroke-width:0.215px">C</text>
<text class="r" transform="scale(1.037 1.000)" x="118.15" y="284.84" style="stroke-width:0.216px">B</text>
<text class="r" transform="scale(1.050 1.000)" x="155.12 163.96 177.45 186.63" y="284.84" style="stroke-width:0.293px">8819</text>
<text class="r" x="181.93" y="284.84">.</text>
<text class="r" transform="scale(1.050 1.000)" x="235.90 245.02 258.32 267.58" y="284.84" style="stroke-width:0.293px">5279</text>
<text class="r" x="266.93" y="284.84">.</text>
<text class="r" transform="scale(1.050 1.000)" x="317.26 330.73 339.74" y="284.84" style="stroke-width:0.293px">250</text>
<text class="r" x="342.78" y="284.84">.</text>
<text class="r" transform="scale(1.019 1.000)" x="359.52" y="284.84" style="stroke-width:0.218px">M</text>
<text class="r" transform="scale(1.050 1.000)" x="401.92 415.33 424.25" y="284.84" style="stroke-width:0.293px">071</text>
<text class="r" x="431.79" y="284.84">.</text>
<text class="r" transform="scale(1.050 1.000)" x="476.31 505.39 513.95 522.97 539.63 548.50 557.34" y="284.84" style="stroke-width:0.293px">1250400</text>
<text class="r" transform="scale(1.150 1.000)" x="443.93" y="284.84" style="stroke-width:0.205px">J</text>
<text class="r" x="559.12" y="284.84">,</text>
<text class="r" transform="scale(1.050 1.000)" x="607.52 616.70 630.25" y="284.84" style="stroke-width:0.293px">196</text>
<text class="r" x="657.22" y="284.84">.</text>
<text class="r" transform="scale(1.050 1.000)" x="684.12 697.85 706.52" y="284.84" style="stroke-width:0.293px">293</text>
<text class="r" x="727.99" y="284.84">.</text>
<text class="r" transform="scale(1.050 1.000)" x="767.34 776.21" y="284.84" style="stroke-width:0.293px">63</text>
<text class="r" transform="scale(1.019 1.000)" x="809.35" y="284.84" style="stroke-width:0.218px">M</text>
<text class="r" transform="scale(1.050 1.000)" x="845.41 853.88 867.89" y="284.84" style="stroke-width:0.293px">210</text>
<text class="r" x="906.62" y="284.84">.</text>
<text class="r" transform="scale(1.050 1.000)" x="26.51 35.57 44.44 61.24 69.98 78.82" y="307.33" style="stroke-width:0.293px">140280</text>
<text class="r" x="56.67 97.91" y="307.33">,,</text>
<text class="r" transform="scale(1.050 1.000)" x="103.91" y="307.33" style="stroke-width:0.215px">C</text>
<text class="r" transform="scale(1.037 1.000)" x="118.15" y="307.33" style="stroke-width:0.216px">B</text>
<text class="r" transform="scale(1.050 1.000)" x="150.81 159.54 168.46 182.01 191.05" y="307.33" style="stroke-width:0.293px">20969</text>
<text class="r" x="186.57" y="307.33">.</text>
<text class="r" transform="scale(1.050 1.000)" x="235.95 244.91 258.63 267.50" y="307.33" style="stroke-width:0.293px">6040</text>
<text class="r" x="266.93" y="307.33">.</text>
<text class="r" transform="scale(1.050 1.000)" x="317.24 330.82 339.40" y="307.33" style="stroke-width:0.293px">937</text>
<text class="r" x="342.78" y="307.33">.</text>
<text class="r" transform="scale(1.019 1.000)" x="359.52" y="307.33" style="stroke-width:0.218px">M</text>
<text class="r" transform="scale(1.050 1.000)" x="401.80 415.59 424.43" y="307.33" style="stroke-width:0.293px">633</text>
<text class="r" x="431.79" y="307.33">.</text>
<text class="r" transform="scale(1.050 1.000)" x="466.04 494.98 503.86 512.70" y="307.33" style="stroke-width:0.293px">1400</text>
<text class="r" transform="scale(1.150 1.000)" x="434.56" y="307.33" style="stroke-width:0.205px">J</text>
<text class="r" x="548.33" y="307.33">,</text>
<text class="i" transform="scale(1.220 1.000)" x="456.02" y="307.33" style="stroke-width:0.109px">E</text>
<text class="i" transform="scale(1.150 1.000)" x="495.38" y="307.33" style="stroke-width:0.112px">C</text>
<text class="i" transform="scale(1.250 1.000)" x="467.53" y="307.33" style="stroke-width:0.107px">M</text>
<text class="r" transform="scale(1.050 1.000)" x="607.52 616.70 630.25" y="307.33" style="stroke-width:0.293px">196</text>
<text class="r" x="657.22" y="307.33">.</text>
<text class="r" transform="scale(1.050 1.000)" x="683.94 697.51 706.43" y="307.33" style="stroke-width:0.293px">315</text>
<text class="r" x="727.99" y="307.33">.</text>
<text class="r" transform="scale(1.050 1.000)" x="763.14 771.62 780.82" y="307.33" style="stroke-width:0.293px">212</text>
<text class="r" transform="scale(1.019 1.000)" x="813.91" y="307.33" style="stroke-width:0.218px">M</text>
<text class="r" transform="scale(1.050 1.000)" x="845.41 854.14 868.00" y="307.33" style="stroke-width:0.293px">202</text>
<text class="r" x="906.62" y="307.33">.</text>
<text class="r" transform="scale(1.050 1.000)" x="32.89 41.95 50.83 67.63 76.36 85.20" y="329.82" style="stroke-width:0.293px">140280</text>
<text class="r" x="63.37 104.62" y="329.82">,,</text>
<text class="r" transform="scale(1.037 1.000)" x="111.68" y="329.82" style="stroke-width:0.216px">B</text>
<text class="r" transform="scale(1.050 1.000)" x="150.53 159.37 168.20 181.79 190.62" y="329.82" style="stroke-width:0.293px">55577</text>
<text class="r" x="186.57" y="329.82">.</text>
<text class="r" transform="scale(1.050 1.000)" x="235.95 244.66 258.54 267.61" y="329.82" style="stroke-width:0.293px">6162</text>
<text class="r" x="266.93" y="329.82">.</text>
<text class="r" transform="scale(1.050 1.000)" x="312.84 321.68 335.32 343.90" y="329.82" style="stroke-width:0.293px">2201</text>
<text class="r" x="347.42" y="329.82">.</text>
<text class="r" transform="scale(1.019 1.000)" x="364.07" y="329.82" style="stroke-width:0.218px">M</text>
<text class="r" transform="scale(1.050 1.000)" x="397.42 406.42 420.01 428.59" y="329.82" style="stroke-width:0.293px">3937</text>
<text class="r" x="436.43" y="329.82">.</text>
<text class="r" transform="scale(1.050 1.000)" x="514.97" y="329.82" style="stroke-width:0.293px">2</text>
<text class="r" transform="scale(1.150 1.000)" x="478.90" y="329.82" style="stroke-width:0.205px">J</text>
<text class="r" transform="scale(1.050 1.000)" x="607.52 616.72 630.02" y="329.82" style="stroke-width:0.293px">127</text>
<text class="r" x="657.22" y="329.82">.</text>
<text class="r" transform="scale(1.050 1.000)" x="683.76 697.42 706.35" y="329.82" style="stroke-width:0.293px">171</text>
<text class="r" x="727.99" y="329.82">.</text>
<text class="r" transform="scale(1.050 1.000)" x="762.78 771.88 780.72" y="329.82" style="stroke-width:0.293px">100</text>
<text class="r" transform="scale(1.019 1.000)" x="813.91" y="329.82" style="stroke-width:0.218px">M</text>
<text class="r" transform="scale(1.050 1.000)" x="845.05 853.80 867.86" y="329.82" style="stroke-width:0.293px">174</text>
<text class="r" x="906.62" y="329.82">.</text>
<text class="r" transform="scale(1.050 1.000)" x="26.87 35.61 44.44 60.96 69.98 78.82" y="352.31" style="stroke-width:0.293px">280500</text>
<text class="r" x="56.67 97.91" y="352.31">,,</text>
<text class="r" transform="scale(1.050 1.000)" x="103.91" y="352.31" style="stroke-width:0.215px">C</text>
<text class="r" transform="scale(1.037 1.000)" x="118.15" y="352.31" style="stroke-width:0.216px">B</text>
<text class="r" transform="scale(1.050 1.000)" x="150.81 159.54 168.46 181.79 190.71" y="352.31" style="stroke-width:0.293px">20971</text>
<text class="r" x="186.57" y="352.31">.</text>
<text class="r" transform="scale(1.050 1.000)" x="231.40 240.24 249.30 263.16 271.92" y="352.31" style="stroke-width:0.293px">11498</text>
<text class="r" x="271.57" y="352.31">.</text>
<text class="r" transform="scale(1.050 1.000)" x="316.90 331.01 339.57" y="352.31" style="stroke-width:0.293px">125</text>
<text class="r" x="342.78" y="352.31">.</text>
<text class="r" transform="scale(1.019 1.000)" x="359.52" y="352.31" style="stroke-width:0.218px">M</text>
<text class="r" transform="scale(1.050 1.000)" x="401.92 415.67 424.47" y="352.31" style="stroke-width:0.293px">084</text>
<text class="r" x="431.79" y="352.31">.</text>
<text class="r" transform="scale(1.050 1.000)" x="489.93 518.55 535.07 544.08" y="352.31" style="stroke-width:0.293px">2050</text>
<text class="r" transform="scale(1.150 1.000)" x="456.04" y="352.31" style="stroke-width:0.205px">J</text>
<text class="r" x="554.48" y="352.31">,</text>
<text class="r" transform="scale(1.050 1.000)" x="607.66 616.44 630.29" y="352.31" style="stroke-width:0.293px">653</text>
<text class="r" x="657.22" y="352.31">.</text>
<text class="r" transform="scale(1.050 1.000)" x="683.98 697.87 706.61" y="352.31" style="stroke-width:0.293px">420</text>
<text class="r" x="727.99" y="352.31">.</text>
<text class="r" transform="scale(1.050 1.000)" x="762.78 771.88 780.72" y="352.31" style="stroke-width:0.293px">100</text>
<text class="r" transform="scale(1.019 1.000)" x="813.91" y="352.31" style="stroke-width:0.218px">M</text>
<text class="r" transform="scale(1.050 1.000)" x="845.22 854.06 868.00" y="352.31" style="stroke-width:0.293px">332</text>
<text class="r" x="906.62" y="352.31">.</text>
<text class="r" transform="scale(1.050 1.000)" x="26.87 35.61 44.44 60.96 69.98 78.82" y="374.80" style="stroke-width:0.293px">280500</text>
<text class="r" x="56.67 97.91" y="374.80">,,</text>
<text class="r" transform="scale(1.050 1.000)" x="103.91" y="374.80" style="stroke-width:0.215px">C</text>
<text class="r" transform="scale(1.037 1.000)" x="118.15" y="374.80" style="stroke-width:0.216px">B</text>
<text class="r" transform="scale(1.050 1.000)" x="150.62 159.62 168.20 182.05 190.97" y="374.80" style="stroke-width:0.293px">39530</text>
<text class="r" x="186.57" y="374.80">.</text>
<text class="r" transform="scale(1.050 1.000)" x="231.40 240.60 249.21 263.00 271.58" y="374.80" style="stroke-width:0.293px">12637</text>
<text class="r" x="271.57" y="374.80">.</text>
<text class="r" transform="scale(1.050 1.000)" x="317.16 330.56 339.57" y="374.80" style="stroke-width:0.293px">075</text>
<text class="r" x="342.78" y="374.80">.</text>
<text class="r" transform="scale(1.019 1.000)" x="359.52" y="374.80" style="stroke-width:0.218px">M</text>
<text class="r" transform="scale(1.050 1.000)" x="401.92 415.75 424.33" y="374.80" style="stroke-width:0.293px">095</text>
<text class="r" x="431.79" y="374.80">.</text>
<text class="r" transform="scale(1.050 1.000)" x="481.09 509.53 518.55 534.98 543.90 552.92" y="374.80" style="stroke-width:0.293px">250150</text>
<text class="r" transform="scale(1.150 1.000)" x="447.97" y="374.80" style="stroke-width:0.205px">J</text>
<text class="r" x="554.48" y="374.80">,</text>
<text class="r" transform="scale(1.050 1.000)" x="607.86 616.58 630.29" y="374.80" style="stroke-width:0.293px">943</text>
<text class="r" x="657.22" y="374.80">.</text>
<text class="r" transform="scale(1.050 1.000)" x="683.98 697.65 706.61" y="374.80" style="stroke-width:0.293px">460</text>
<text class="r" x="727.99" y="374.80">.</text>
<text class="r" transform="scale(1.050 1.000)" x="762.78 771.88 780.54" y="374.80" style="stroke-width:0.293px">105</text>
<text class="r" transform="scale(1.019 1.000)" x="813.91" y="374.80" style="stroke-width:0.218px">M</text>
<text class="r" transform="scale(1.050 1.000)" x="845.22 854.22 867.89" y="374.80" style="stroke-width:0.293px">390</text>
<text class="r" x="906.62" y="374.80">.</text>
<text class="r" transform="scale(1.050 1.000)" x="33.26 41.99 50.83 67.35 76.36 85.20" y="397.29" style="stroke-width:0.293px">280500</text>
<text class="r" x="63.37 104.62" y="397.29">,,</text>
<text class="r" transform="scale(1.037 1.000)" x="111.68" y="397.29" style="stroke-width:0.216px">B</text>
<text class="r" transform="scale(1.050 1.000)" x="150.79 159.42 168.30 182.23 190.89" y="397.29" style="stroke-width:0.293px">96323</text>
<text class="r" x="186.57" y="397.29">.</text>
<text class="r" transform="scale(1.050 1.000)" x="231.40 240.41 249.44 263.08 272.02" y="397.29" style="stroke-width:0.293px">13202</text>
<text class="r" x="271.57" y="397.29">.</text>
<text class="r" transform="scale(1.050 1.000)" x="317.16 330.56 339.57" y="397.29" style="stroke-width:0.293px">075</text>
<text class="r" x="342.78" y="397.29">.</text>
<text class="r" transform="scale(1.019 1.000)" x="359.52" y="397.29" style="stroke-width:0.218px">M</text>
<text class="r" transform="scale(1.050 1.000)" x="402.03 415.59 424.61" y="397.29" style="stroke-width:0.293px">232</text>
<text class="r" x="431.79" y="397.29">.</text>
<text class="r" transform="scale(1.050 1.000)" x="476.67 505.03 514.13 522.97 539.40 548.32 557.34" y="397.29" style="stroke-width:0.293px">2100150</text>
<text class="r" transform="scale(1.150 1.000)" x="443.93" y="397.29" style="stroke-width:0.205px">J</text>
<text class="r" x="559.12" y="397.29">,</text>
<text class="r" transform="scale(1.050 1.000)" x="607.70 616.44 630.37" y="397.29" style="stroke-width:0.293px">350</text>
<text class="r" x="657.22" y="397.29">.</text>
<text class="r" transform="scale(1.050 1.000)" x="683.98 697.77 706.57" y="397.29" style="stroke-width:0.293px">404</text>
<text class="r" x="727.99" y="397.29">.</text>
<text class="r" transform="scale(1.050 1.000)" x="755.91 765.00 773.80 787.55" y="397.29" style="stroke-width:0.293px">1044</text>
<text class="r" x="822.30" y="397.29">.</text>
<text class="r" transform="scale(1.019 1.000)" x="820.99" y="397.29" style="stroke-width:0.218px">M</text>
<text class="r" transform="scale(1.050 1.000)" x="845.41 854.06 867.89" y="397.29" style="stroke-width:0.293px">238</text>
<text class="r" x="906.62" y="397.29">.</text>
<text class="r" transform="scale(1.050 1.000)" x="40.22 49.23 58.07 74.51 83.60 92.44 101.28" y="419.78" style="stroke-width:0.293px">5001000</text>
<text class="r" x="70.97" y="419.78">,</text>
<text class="r" transform="scale(1.050 1.000)" x="150.45 159.28 168.12 182.05 190.71" y="419.78" style="stroke-width:0.293px">11131</text>
<text class="r" x="186.57" y="419.78">.</text>
<text class="r" transform="scale(1.050 1.000)" x="231.40 240.24 249.08 263.00 271.66" y="419.78" style="stroke-width:0.293px">11131</text>
<text class="r" x="271.57" y="419.78">.</text>
<text class="r" transform="scale(1.050 1.000)" x="316.90 330.73 339.74" y="419.78" style="stroke-width:0.293px">150</text>
<text class="r" x="342.78" y="419.78">.</text>
<text class="r" transform="scale(1.019 1.000)" x="359.52" y="419.78" style="stroke-width:0.218px">M</text>
<text class="r" transform="scale(1.050 1.000)" x="401.92 415.50 424.47" y="419.78" style="stroke-width:0.293px">054</text>
<text class="r" x="431.79" y="419.78">.</text>
<text class="r" transform="scale(1.050 1.000)" x="476.67 505.03 513.95 522.97 539.77 548.32 557.34" y="419.78" style="stroke-width:0.293px">2150250</text>
<text class="r" transform="scale(1.150 1.000)" x="443.93" y="419.78" style="stroke-width:0.205px">J</text>
<text class="r" x="559.12" y="419.78">,</text>
<text class="r" transform="scale(1.050 1.000)" x="607.89 616.58 630.47" y="419.78" style="stroke-width:0.293px">242</text>
<text class="r" x="657.22" y="419.78">.</text>
<text class="r" transform="scale(1.050 1.000)" x="683.98 697.65 706.26" y="419.78" style="stroke-width:0.293px">467</text>
<text class="r" x="727.99" y="419.78">.</text>
<text class="r" transform="scale(1.050 1.000)" x="762.92 771.75 780.72" y="419.78" style="stroke-width:0.293px">660</text>
<text class="r" transform="scale(1.019 1.000)" x="813.91" y="419.78" style="stroke-width:0.218px">M</text>
<text class="r" transform="scale(1.050 1.000)" x="845.05 854.22 867.89" y="419.78" style="stroke-width:0.293px">190</text>
<text class="r" x="906.62" y="419.78">.</text>
<text class="r" transform="scale(1.050 1.000)" x="29.86 38.96 47.80 56.64" y="442.27" style="stroke-width:0.293px">1000</text>
<text class="r" x="69.47" y="442.27">,</text>
<text class="i" transform="scale(1.220 1.000)" x="63.51" y="442.27" style="stroke-width:0.109px">E</text>
<text class="i" transform="scale(1.150 1.000)" x="78.98" y="442.27" style="stroke-width:0.112px">C</text>
<text class="i" transform="scale(1.250 1.000)" x="84.44" y="442.27" style="stroke-width:0.107px">M</text>
<text class="r" transform="scale(1.050 1.000)" x="150.45 159.54 168.34 181.95 190.79" y="442.27" style="stroke-width:0.293px">10455</text>
<text class="r" x="186.57" y="442.27">.</text>
<text class="r" transform="scale(1.050 1.000)" x="231.40 240.50 249.30 262.91 271.74" y="442.27" style="stroke-width:0.293px">10455</text>
<text class="r" x="271.57" y="442.27">.</text>
<text class="r" transform="scale(1.050 1.000)" x="317.12 330.99 339.82" y="442.27" style="stroke-width:0.293px">499</text>
<text class="r" x="342.78" y="442.27">.</text>
<text class="r" transform="scale(1.019 1.000)" x="359.52" y="442.27" style="stroke-width:0.218px">M</text>
<text class="r" transform="scale(1.050 1.000)" x="401.67 415.55 424.51" y="442.27" style="stroke-width:0.293px">168</text>
<text class="r" x="431.79" y="442.27">.</text>
<text class="r" transform="scale(1.050 1.000)" x="476.67 505.39 513.95 522.97 539.63 548.50 557.34" y="442.27" style="stroke-width:0.293px">2250400</text>
<text class="r" transform="scale(1.150 1.000)" x="443.93" y="442.27" style="stroke-width:0.205px">J</text>
<text class="r" x="559.12" y="442.27">,</text>
<text class="r" transform="scale(1.050 1.000)" x="607.52 616.70 630.47" y="442.27" style="stroke-width:0.293px">192</text>
<text class="r" x="657.22" y="442.27">.</text>
<text class="r" transform="scale(1.050 1.000)" x="683.90 697.77 706.43" y="442.27" style="stroke-width:0.293px">605</text>
<text class="r" x="727.99" y="442.27">.</text>
<text class="r" transform="scale(1.050 1.000)" x="756.27 764.92 773.58 787.67" y="442.27" style="stroke-width:0.293px">2319</text>
<text class="r" x="822.30" y="442.27">.</text>
<text class="r" transform="scale(1.019 1.000)" x="820.99" y="442.27" style="stroke-width:0.218px">M</text>
<text class="r" transform="scale(1.050 1.000)" x="845.05 854.14 867.81" y="442.27" style="stroke-width:0.293px">183</text>
<text class="r" x="906.62" y="442.27">.</text>
<text class="r" transform="scale(1.050 1.000)" x="466.40 494.98 503.86 512.70" y="464.76" style="stroke-width:0.293px">2400</text>
<text class="r" transform="scale(1.150 1.000)" x="434.56" y="464.76" style="stroke-width:0.205px">J</text>
<text class="r" x="548.33" y="464.76">,</text>
<text class="i" transform="scale(1.220 1.000)" x="456.02" y="464.76" style="stroke-width:0.109px">E</text>
<text class="i" transform="scale(1.150 1.000)" x="495.38" y="464.76" style="stroke-width:0.112px">C</text>
<text class="i" transform="scale(1.250 1.000)" x="467.53" y="464.76" style="stroke-width:0.107px">M</text>
<text class="r" transform="scale(1.050 1.000)" x="607.52 616.44 630.45" y="464.76" style="stroke-width:0.293px">159</text>
<text class="r" x="657.22" y="464.76">.</text>
<text class="r" transform="scale(1.050 1.000)" x="683.67 697.87 706.48" y="464.76" style="stroke-width:0.293px">726</text>
<text class="r" x="727.99" y="464.76">.</text>
<text class="r" transform="scale(1.050 1.000)" x="755.91 765.00 773.84 787.41" y="464.76" style="stroke-width:0.293px">1005</text>
<text class="r" x="822.30" y="464.76">.</text>
<text class="r" transform="scale(1.019 1.000)" x="820.99" y="464.76" style="stroke-width:0.218px">M</text>
<text class="r" transform="scale(1.050 1.000)" x="845.05 854.14 868.00" y="464.76" style="stroke-width:0.293px">182</text>
<text class="r" x="906.62" y="464.76">.</text>
<text class="r" transform="scale(1.050 1.000)" x="36.52" y="487.60" style="stroke-width:0.215px">C</text>
<text class="r" x="51.41 86.45" y="487.60">oi</text>
<text class="r" transform="scale(1.043 1.000)" x="58.33" y="487.60" style="stroke-width:0.215px">m</text>
<text class="r" transform="scale(1.067 1.000)" x="71.92 85.99 103.24" y="487.60" style="stroke-width:0.213px">bnd</text>
<text class="r" x="101.90" y="487.60">e</text>
<text class="r" transform="scale(1.050 1.000)" x="150.67 159.54 168.49 182.09 190.97" y="487.60" style="stroke-width:0.293px">40240</text>
<text class="r" x="186.57" y="487.60">.</text>
<text class="r" transform="scale(1.050 1.000)" x="235.95 244.91 258.63 267.24" y="487.60" style="stroke-width:0.293px">6041</text>
<text class="r" x="266.93" y="487.60">.</text>
<text class="r" transform="scale(1.050 1.000)" x="312.39 321.23 335.43 343.90" y="487.60" style="stroke-width:0.293px">7721</text>
<text class="r" x="347.42" y="487.60">.</text>
<text class="r" transform="scale(1.019 1.000)" x="364.07" y="487.60" style="stroke-width:0.218px">M</text>
<text class="r" transform="scale(1.050 1.000)" x="607.89 616.36 630.45" y="487.60" style="stroke-width:0.293px">219</text>
<text class="r" x="657.22" y="487.60">.</text>
<text class="r" transform="scale(1.050 1.000)" x="683.94 697.51 706.48" y="487.60" style="stroke-width:0.293px">316</text>
<text class="r" x="727.99" y="487.60">.</text>
<text class="r" transform="scale(1.050 1.000)" x="762.34 776.00 784.75" y="487.60" style="stroke-width:0.293px">351</text>
<text class="r" x="810.32" y="487.60">.</text>
<text class="r" transform="scale(1.037 1.000)" x="804.36" y="487.60" style="stroke-width:0.216px">B</text>
<text class="r" transform="scale(1.120 1.000)" x="10.83" y="528.70" style="stroke-width:0.208px">T</text>
<text class="r" transform="scale(1.086 1.000)" x="21.81" y="528.70" style="stroke-width:0.211px">a</text>
<text class="r" transform="scale(1.077 1.000)" x="31.24" y="528.70" style="stroke-width:0.212px">b</text>
<text class="r" transform="scale(1.009 1.000)" x="43.08" y="528.70" style="stroke-width:0.219px">l</text>
<text class="r" transform="scale(1.010 1.000)" x="48.15" y="528.70" style="stroke-width:0.219px">e</text>
<text class="r" transform="scale(1.057 1.000)" x="60.40" y="528.70" style="stroke-width:0.292px">2</text>
<text class="r" transform="scale(1.007 1.000)" x="72.81" y="528.70" style="stroke-width:0.219px">:</text>
<text class="r" transform="scale(1.082 1.000)" x="91.38" y="528.70" style="stroke-width:0.211px">C</text>
<text class="r" transform="scale(1.169 1.000)" x="96.61" y="528.70" style="stroke-width:0.203px">P</text>
<text class="r" transform="scale(1.055 1.000)" x="118.93" y="528.70" style="stroke-width:0.214px">U</text>
<text class="r" transform="scale(1.009 1.000)" x="145.48" y="528.70" style="stroke-width:0.219px">c</text>
<text class="r" transform="scale(1.008 1.000)" x="153.94 224.13 229.31" y="528.70" style="stroke-width:0.219px">oio</text>
<text class="r" transform="scale(1.075 1.000)" x="153.16 169.80 194.15 223.84" y="528.70" style="stroke-width:0.212px">nupn</text>
<text class="r" transform="scale(1.016 1.000)" x="172.13" y="528.70" style="stroke-width:0.218px">s</text>
<text class="r" transform="scale(1.051 1.000)" x="183.48" y="528.70" style="stroke-width:0.215px">m</text>
<text class="r" transform="scale(1.189 1.000)" x="184.35" y="528.70" style="stroke-width:0.202px">t</text>
<text class="r" transform="scale(1.107 1.000)" x="233.40" y="528.70" style="stroke-width:0.209px">p</text>
<text class="r" transform="scale(1.039 1.000)" x="258.50" y="528.70" style="stroke-width:0.216px">e</text>
<text class="r" transform="scale(1.148 1.000)" x="241.54" y="528.70" style="stroke-width:0.205px">r</text>
<text class="r" transform="scale(1.016 1.000)" x="287.66 305.18" y="528.70" style="stroke-width:0.218px">ee</text>
<text class="r" transform="scale(1.049 1.000)" x="286.73" y="528.70" style="stroke-width:0.215px">v</text>
<text class="r" transform="scale(1.083 1.000)" x="294.19" y="528.70" style="stroke-width:0.211px">n</text>
<text class="r" transform="scale(1.198 1.000)" x="274.58" y="528.70" style="stroke-width:0.201px">t</text>
<text class="r" transform="scale(1.083 1.000)" x="316.34" y="528.70" style="stroke-width:0.211px">a</text>
<text class="r" transform="scale(1.073 1.000)" x="328.11 337.64" y="528.70" style="stroke-width:0.212px">nd</text>
<text class="r" transform="scale(1.061 1.000)" x="358.48 368.26 392.74" y="528.70" style="stroke-width:0.214px">nub</text>
<text class="r" transform="scale(1.037 1.000)" x="386.58" y="528.70" style="stroke-width:0.216px">m</text>
<text class="r" transform="scale(0.995 1.000)" x="428.48" y="528.70" style="stroke-width:0.221px">e</text>
<text class="r" transform="scale(1.100 1.000)" x="395.16" y="528.70" style="stroke-width:0.210px">r</text>
<text class="r" transform="scale(1.055 1.000)" x="425.83 434.58" y="528.70" style="stroke-width:0.214px">of</text>
<text class="r" transform="scale(1.018 1.000)" x="463.42 480.93" y="528.70" style="stroke-width:0.218px">ee</text>
<text class="r" transform="scale(1.051 1.000)" x="456.99" y="528.70" style="stroke-width:0.215px">v</text>
<text class="r" transform="scale(1.085 1.000)" x="459.12" y="528.70" style="stroke-width:0.211px">n</text>
<text class="r" transform="scale(1.200 1.000)" x="423.75" y="528.70" style="stroke-width:0.201px">t</text>
<text class="r" transform="scale(1.025 1.000)" x="502.72" y="528.70" style="stroke-width:0.217px">s</text>
<text class="r" transform="scale(0.987 1.000)" x="536.71 542.93" y="528.70" style="stroke-width:0.221px">fo</text>
<text class="r" transform="scale(1.092 1.000)" x="499.20" y="528.70" style="stroke-width:0.211px">r</text>
<text class="r" transform="scale(1.173 1.000)" x="476.50" y="528.70" style="stroke-width:0.203px">a</text>
<text class="i" transform="scale(1.170 1.000)" x="492.37" y="528.70" style="stroke-width:0.111px">W</text>
<text class="i" transform="scale(1.264 1.000)" x="497.85" y="528.70" style="stroke-width:0.107px">e</text>
<text class="i" transform="scale(1.203 1.000)" x="532.07" y="528.70" style="stroke-width:0.109px">ν</text>
<text class="r" transform="scale(1.072 1.000)" x="620.15" y="528.70" style="stroke-width:0.212px">j</text>
<text class="r" transform="scale(1.012 1.000)" x="661.32" y="528.70" style="stroke-width:0.219px">e</text>
<text class="r" transform="scale(1.193 1.000)" x="568.45" y="528.70" style="stroke-width:0.201px">t</text>
<text class="r" transform="scale(1.019 1.000)" x="672.13" y="528.70" style="stroke-width:0.218px">s</text>
<text class="r" transform="scale(0.910 0.820)" x="760.27" y="641.37" style="stroke-width:0.000px">@</text>
<text class="r" transform="scale(1.035 1.000)" x="683.07" y="528.70" style="stroke-width:0.216px">N</text>
<text class="r" transform="scale(1.025 1.000)" x="703.76" y="528.70" style="stroke-width:0.217px">L</text>
<text class="r" transform="scale(1.058 1.000)" x="692.27" y="528.70" style="stroke-width:0.214px">O</text>
<text class="r" transform="scale(1.030 1.000)" x="731.47" y="528.70" style="stroke-width:0.217px">s</text>
<text class="r" transform="scale(1.099 1.000)" x="692.37" y="528.70" style="stroke-width:0.210px">a</text>
<text class="r" transform="scale(1.066 1.000)" x="722.85" y="528.70" style="stroke-width:0.213px">m</text>
<text class="r" transform="scale(1.090 1.000)" x="721.70" y="528.70" style="stroke-width:0.211px">p</text>
<text class="r" transform="scale(1.022 1.000)" x="779.60 793.26" y="528.70" style="stroke-width:0.218px">l.</text>
<text class="r" transform="scale(1.023 1.000)" x="783.95" y="528.70" style="stroke-width:0.218px">e</text>
<text class="r" transform="scale(1.048 1.000)" x="789.06" y="528.70" style="stroke-width:0.215px">N</text>
<text class="r" transform="scale(1.024 1.000)" x="821.44" y="528.70" style="stroke-width:0.217px">o</text>
<text class="r" transform="scale(1.209 1.000)" x="704.05" y="528.70" style="stroke-width:0.200px">t</text>
<text class="r" transform="scale(1.025 1.000)" x="837.09" y="528.70" style="stroke-width:0.217px">e</text>
<text class="r" transform="scale(1.015 1.000)" x="859.82 866.03" y="528.70" style="stroke-width:0.218px">fo</text>
<text class="r" transform="scale(1.122 1.000)" x="791.93" y="528.70" style="stroke-width:0.208px">r</text>
<text class="r" transform="scale(1.072 1.000)" x="10.90" y="551.70" style="stroke-width:0.212px">C</text>
<text class="r" transform="scale(1.040 1.000)" x="24.16" y="551.70" style="stroke-width:0.216px">M</text>
<text class="r" transform="scale(1.020 1.000)" x="41.51" y="551.70" style="stroke-width:0.218px">S</text>
<text class="r" transform="scale(1.077 1.000)" x="54.54 64.32 88.79" y="551.70" style="stroke-width:0.212px">nub</text>
<text class="r" transform="scale(1.053 1.000)" x="75.58" y="551.70" style="stroke-width:0.214px">m</text>
<text class="r" transform="scale(1.010 1.000)" x="104.37" y="551.70" style="stroke-width:0.219px">e</text>
<text class="r" transform="scale(1.116 1.000)" x="102.04" y="551.70" style="stroke-width:0.208px">r</text>
<text class="r" transform="scale(1.018 1.000)" x="118.95" y="551.70" style="stroke-width:0.218px">s</text>
<text class="r" transform="scale(1.009 1.000)" x="127.85" y="551.70" style="stroke-width:0.219px">,</text>
<text class="r" transform="scale(1.148 1.000)" x="122.64" y="551.70" style="stroke-width:0.205px">t</text>
<text class="r" transform="scale(1.038 1.000)" x="142.14" y="551.70" style="stroke-width:0.216px">h</text>
<text class="r" transform="scale(0.974 1.000)" x="161.50" y="551.70" style="stroke-width:0.223px">e</text>
<text class="r" transform="scale(0.979 1.000)" x="175.48 200.17 213.59 232.11" y="551.70" style="stroke-width:0.222px">ecec</text>
<text class="r" transform="scale(0.978 1.000)" x="183.40 189.08 195.27 208.68" y="551.70" style="stroke-width:0.222px">ffii</text>
<text class="r" transform="scale(1.043 1.000)" x="208.38" y="551.70" style="stroke-width:0.215px">n</text>
<text class="r" transform="scale(1.011 1.000)" x="232.83" y="551.70" style="stroke-width:0.219px">y</text>
<text class="r" transform="scale(0.924 1.000)" x="274.18" y="551.70" style="stroke-width:0.229px">i</text>
<text class="r" transform="scale(0.931 1.000)" x="277.23" y="551.70" style="stroke-width:0.228px">s</text>
<text class="r" transform="scale(1.051 1.000)" x="258.13" y="551.70" style="stroke-width:0.215px">m</text>
<text class="r" transform="scale(1.009 1.000)" x="284.13" y="551.70" style="stroke-width:0.219px">e</text>
<text class="r" transform="scale(1.085 1.000)" x="271.92" y="551.70" style="stroke-width:0.211px">a</text>
<text class="r" transform="scale(1.075 1.000)" x="283.28" y="551.70" style="stroke-width:0.212px">n</text>
<text class="r" transform="scale(1.189 1.000)" x="264.76" y="551.70" style="stroke-width:0.202px">t</text>
<text class="r" transform="scale(0.969 1.000)" x="338.64 344.86" y="551.70" style="stroke-width:0.223px">fo</text>
<text class="r" transform="scale(1.071 1.000)" x="320.50" y="551.70" style="stroke-width:0.213px">r</text>
<text class="r" transform="scale(1.112 1.000)" x="320.96 340.80" y="551.70" style="stroke-width:0.209px">FF</text>
<text class="r" transform="scale(1.041 1.000)" x="354.28 375.48" y="551.70" style="stroke-width:0.216px">xx</text>
<text class="r" transform="scale(1.042 1.000)" x="391.17" y="551.70" style="stroke-width:0.216px">m</text>
<text class="r" transform="scale(1.075 1.000)" x="393.38" y="551.70" style="stroke-width:0.212px">a</text>
<text class="r" transform="scale(1.179 1.000)" x="367.00" y="551.70" style="stroke-width:0.203px">t</text>
<text class="r" x="439.31" y="551.70">c</text>
<text class="r" transform="scale(1.066 1.000)" x="419.64 434.04" y="551.70" style="stroke-width:0.213px">hn</text>
<text class="r" x="457.38 472.64 482.39" y="551.70">ig.</text>
</svg></body></html>
